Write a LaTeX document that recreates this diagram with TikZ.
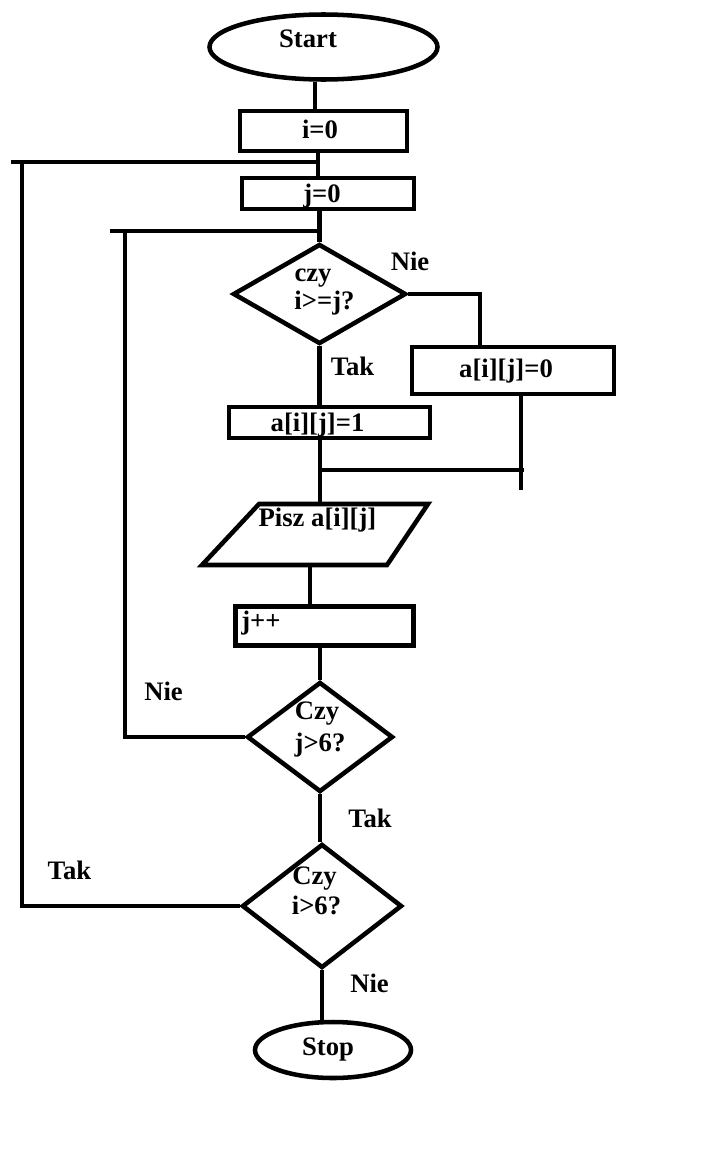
\documentclass[tikz,border=0pt]{standalone}
\usepackage{fontspec}
\setmainfont{Liberation Serif}
\usetikzlibrary{shapes.geometric}
\begin{document}
\begin{tikzpicture}[x=0.75pt,y=-0.75pt,
  base/.style={draw=black, line width=3.4pt, inner sep=0pt},
  term/.style={base, ellipse},
  proc/.style={base, rectangle},
  dec/.style={base, diamond},
  wire/.style={line width=3.4pt},
  txt/.style={font=\fontsize{20}{24}\selectfont\bfseries, inner sep=0pt, text height=13pt, text depth=0pt}]
\useasboundingbox (0,0) rectangle (716,1153);
\fill[white] (0,0) rectangle (716,1153);

% shapes
\node[term, minimum width=171pt, minimum height=48.75pt] (start) at (323.5,47) {};
\node[proc, minimum width=125.25pt, minimum height=30pt] (i0) at (323.5,131) {};
\node[proc, minimum width=129pt, minimum height=23.25pt] (j0) at (328,193.5) {};
\node[dec, minimum width=129.75pt, minimum height=75pt] (d1) at (319.5,294) {};
\node[proc, minimum width=151.5pt, minimum height=35.25pt] (a0) at (513,370.5) {};
\node[proc, minimum width=150.75pt, minimum height=23.25pt] (a1) at (329.5,422.5) {};
\coordinate (p1) at (259,504);
\coordinate (p2) at (428,504);
\coordinate (p3) at (387,565);
\coordinate (p4) at (202,565);
\draw[wire] (p1) -- (p2) -- (p3) -- (p4) -- cycle;
\node[proc, minimum width=133.5pt, minimum height=29.25pt] (jpp) at (324.5,626) {};
\node[dec, minimum width=109.5pt, minimum height=82.5pt] (d2) at (320,737) {};
\node[dec, minimum width=120pt, minimum height=93pt] (d3) at (322,906) {};
\node[term, minimum width=117pt, minimum height=42pt] (stop) at (333,1050) {};

% helper coordinates
\coordinate (xa) at (315,0);
\coordinate (xb) at (318,0);
\coordinate (xd) at (480,0);
\coordinate (lo0) at (11,162);
\coordinate (lo1) at (22,162);
\coordinate (li0) at (110,231);
\coordinate (li1) at (125,231);
\coordinate (a0end) at (521,490);
\coordinate (mr) at (524,470);
\coordinate (partop) at (320,504);
\coordinate (parbot) at (310,565);

% connectors
\draw[wire] (start.south -| xa) -- (i0.north -| xa);
\draw[wire] (i0.south -| xb) -- (j0.north -| xb);
\draw[wire] (d3.west) -| (lo1);
\draw[wire] (lo0) -- (lo0 -| xb);
\draw[wire] (j0.south -| d1.north) -- (d1.north);
\draw[wire] (d2.west) -| (li1);
\draw[wire] (li0) -- (li0 -| d1.north);
\draw[wire] (d1.east) -| (xd |- a0.north);
\draw[wire] (d1.south) -- (d1.south |- a1.north);
\draw[wire] (a0.south -| a0end) -- (a0end);
\draw[wire] (mr -| d1.south) -- (mr);
\draw[wire] (a1.south -| partop) -- (partop);
\draw[wire] (parbot) -- (jpp.north -| parbot);
\draw[wire] (jpp.south -| d2.north) -- (d2.north);
\draw[wire] (d2.south) -- (d2.south |- d3.north);
\draw[wire] (d3.south) -- (d3.south |- stop.north);

% texts
\node[txt] (tstart) at (308,39) {Start};
\node[txt] (ti0) at (320,129.5) {i=0};
\node[txt] (tj0) at (322,194) {j=0};
\node[txt] (td1a) at (313,273) {czy};
\node[txt] (td1b) at (324.5,301) {i>=j?};
\node[txt] (nie1) at (410,262) {Nie};
\node[txt] (tak1) at (352.5,367) {Tak};
\node[txt] (ta0) at (506,369) {a[i][j]=0};
\node[txt] (ta1) at (317.5,423) {a[i][j]=1};
\node[txt] (tpar) at (317.5,518) {Pisz a[i][j]};
\node[txt, anchor=west] (tjpp) at (241,621) {j++};
\node[txt] (td2a) at (317,711) {Czy};
\node[txt] (td2b) at (320,743) {j>6?};
\node[txt] (nie2) at (163.5,692) {Nie};
\node[txt] (tak2) at (370,819) {Tak};
\node[txt] (td3a) at (314.5,876) {Czy};
\node[txt] (td3b) at (316.5,906) {i>6?};
\node[txt] (tak3) at (69.5,871) {Tak};
\node[txt] (nie3) at (369.5,984) {Nie};
\node[txt] (tstop) at (328,1047) {Stop};
\end{tikzpicture}
\end{document}
